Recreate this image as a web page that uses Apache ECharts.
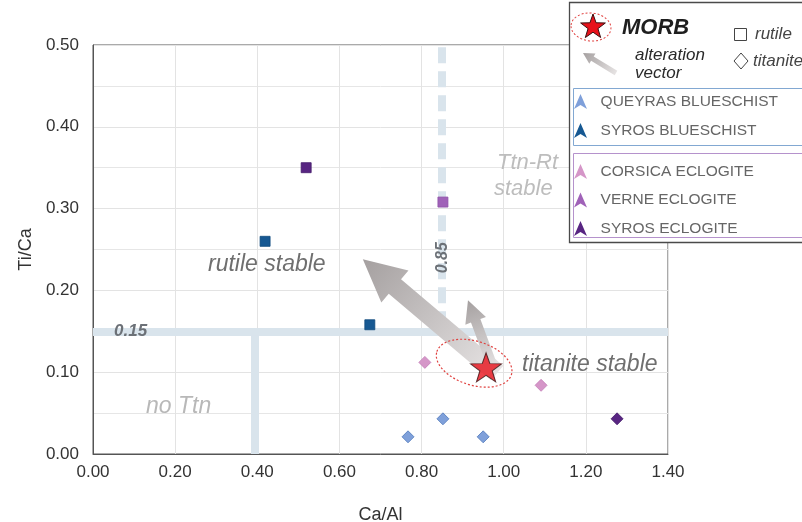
<!DOCTYPE html>
<html>
<head>
<meta charset="utf-8">
<script src="https://cdn.jsdelivr.net/npm/echarts@6/dist/echarts.min.js"></script>
<style>
  html, body { margin: 0; padding: 0; background: #fff; }
  #chart { width: 802px; height: 522px; }
</style>
</head>
<body>
<div id="chart"></div>
<script>
// ---- data: [Ca/Al, Ti/Ca, host mineral] ----
const queyrasBlueschist = [[0.767, 0.021, 'titanite'], [0.852, 0.043, 'titanite'], [0.950, 0.021, 'titanite']];
const syrosBlueschist   = [[0.419, 0.260, 'rutile'], [0.674, 0.158, 'rutile']];
const corsicaEclogite   = [[0.808, 0.112, 'titanite'], [1.091, 0.084, 'titanite']];
const verneEclogite     = [[0.852, 0.308, 'rutile']];
const syrosEclogite     = [[0.519, 0.350, 'rutile'], [1.276, 0.043, 'titanite']];
const morb              = [[0.957, 0.106]];
// alteration vectors: [fromX, fromY, toX, toY]
const alterationVectors = [[0.984, 0.099, 0.657, 0.238], [0.976, 0.103, 0.913, 0.188]];
// stability-field boundaries
const rutileLimitTiCa   = 0.15;
const titaniteLimitCaAl = 0.85;
const noTitaniteCaAl    = 0.395;
const morbHalo          = [[0.928, 0.111]];
const xTickValues = [0, 0.2, 0.4, 0.6, 0.8, 1.0, 1.2, 1.4];
const yTickValues = [0, 0.1, 0.2, 0.3, 0.4, 0.5];

const FONT = "'Liberation Sans', Arial, sans-serif";
const BAND = '#d9e4ec';

// five-pointed star outline
function starPoints(cx, cy, r) {
  const pts = [];
  for (let k = 0; k < 10; k++) {
    const rr = k % 2 ? r * 0.4 : r;
    const a = -Math.PI / 2 + k * Math.PI / 5;
    pts.push([cx + rr * Math.cos(a), cy + rr * Math.sin(a)]);
  }
  return pts;
}
const starSymbol = 'path://M' + starPoints(0, 0, 1).map(p => p[0].toFixed(4) + ',' + p[1].toFixed(4)).join('L') + 'Z';
// notched arrowhead used as key icon
const keyIcon = 'path://M0,0L6.5,15L0,11L-6.5,15Z';

// arrow polygon from tail p0 to tip p1
function arrowPoints(p0, p1, shaft, head, headLen) {
  const dx = p1[0] - p0[0], dy = p1[1] - p0[1];
  const len = Math.hypot(dx, dy);
  const ux = dx / len, uy = dy / len, nx = -uy, ny = ux;
  const bx = p1[0] - ux * headLen, by = p1[1] - uy * headLen;
  return [
    [p0[0] + nx * shaft / 2, p0[1] + ny * shaft / 2],
    [bx + nx * shaft / 2, by + ny * shaft / 2],
    [bx + nx * head / 2, by + ny * head / 2],
    [p1[0], p1[1]],
    [bx - nx * head / 2, by - ny * head / 2],
    [bx - nx * shaft / 2, by - ny * shaft / 2],
    [p0[0] - nx * shaft / 2, p0[1] - ny * shaft / 2]
  ];
}
function arrowFill(p0, p1) {
  return new echarts.graphic.LinearGradient(p0[0], p0[1], p1[0], p1[1], [
    { offset: 0, color: '#e6e3e3' },
    { offset: 1, color: '#a5a0a0' }
  ], true);
}
const arrowShapes = [
  { shaft: 19, head: 42, headLen: 42 },
  { shaft: 10, head: 22, headLen: 22 }
];

const mineralSymbol = v => (v[2] === 'rutile' ? 'rect' : 'diamond');
const mineralSize = v => (v[2] === 'rutile' ? 10 : 12);

function group(name, data, color, border) {
  return {
    name, type: 'scatter', data,
    symbol: mineralSymbol, symbolSize: mineralSize,
    itemStyle: { color, borderColor: border, borderWidth: 0.8, opacity: 1 },
    z: 5
  };
}

const chart = echarts.init(document.getElementById('chart'), null, { renderer: 'canvas' });

const legendText = { color: '#666', fontSize: 15.5, fontFamily: FONT };
const legendCommon = {
  orient: 'vertical', left: 574, padding: 0, itemGap: 13,
  itemWidth: 13, itemHeight: 15, icon: keyIcon, textStyle: legendText, z: 110,
  itemStyle: { borderWidth: 0 },
  formatter: name => '  ' + name
};

chart.setOption({
  animation: false,
  textStyle: { fontFamily: FONT },
  grid: {
    left: 93, right: 134, top: 45, bottom: 68, outerBoundsMode: 'none',
    show: true, borderColor: '#555', borderWidth: 1, backgroundColor: 'transparent'
  },
  xAxis: {
    type: 'value', min: 0, max: 1.4, interval: 0.2,
    name: 'Ca/Al', nameLocation: 'middle', nameGap: 52,
    nameTextStyle: { fontSize: 18, color: '#333', fontFamily: FONT },
    axisLine: { show: true, lineStyle: { color: '#555' } },
    axisTick: { show: false },
    axisLabel: { fontSize: 17, color: '#333', margin: 10, formatter: v => v.toFixed(2), customValues: xTickValues },
    splitLine: { show: true, lineStyle: { color: '#e3e3e3' } }
  },
  yAxis: {
    type: 'value', min: 0, max: 0.5, interval: 0.1,
    name: 'Ti/Ca', nameLocation: 'middle', nameGap: 49,
    nameTextStyle: { fontSize: 18, color: '#333', fontFamily: FONT },
    axisLine: { show: true, lineStyle: { color: '#555' } },
    axisTick: { show: false },
    axisLabel: { fontSize: 17, color: '#333', margin: 14, formatter: v => v.toFixed(2), customValues: yTickValues },
    splitLine: { show: true, lineStyle: { color: '#e3e3e3' } },
    minorTick: { show: false, splitNumber: 2 },
    minorSplitLine: { show: true, lineStyle: { color: '#e6e6e6' } }
  },
  legend: [
    Object.assign({ data: ['QUEYRAS BLUESCHIST', 'SYROS BLUESCHIST'], top: 93.5 }, legendCommon),
    Object.assign({ data: ['CORSICA ECLOGITE', 'VERNE ECLOGITE', 'SYROS ECLOGITE'], top: 163.5 }, legendCommon, { itemGap: 12.5 })
  ],
  series: [
    {
      // stability-field boundaries
      name: 'boundaries', type: 'scatter', data: [], silent: true, z: 1,
      markLine: {
        silent: true, symbol: 'none', animation: false, label: { show: false },
        lineStyle: { color: BAND, width: 8, type: 'solid', cap: 'butt' },
        data: [
          [{ coord: [0, rutileLimitTiCa] }, { coord: [1.4, rutileLimitTiCa] }],
          [{ coord: [noTitaniteCaAl, 0] }, { coord: [noTitaniteCaAl, rutileLimitTiCa - 0.005] }],
          [{ coord: [titaniteLimitCaAl, rutileLimitTiCa + 0.005], lineStyle: { type: [16, 8] } },
           { coord: [titaniteLimitCaAl, 0.5] }]
        ]
      }
    },
    group('QUEYRAS BLUESCHIST', queyrasBlueschist, '#7fa0da', '#4f78bb'),
    group('SYROS BLUESCHIST', syrosBlueschist, '#165892', '#0f4a7c'),
    group('CORSICA ECLOGITE', corsicaEclogite, '#d596c8', '#c47fb7'),
    group('VERNE ECLOGITE', verneEclogite, '#a062b8', '#8f52a8'),
    group('SYROS ECLOGITE', syrosEclogite, '#582582', '#441a6a'),
    {
      name: 'alteration vector', type: 'custom', data: alterationVectors, z: 6, silent: true,
      encode: { x: [0, 2], y: [1, 3] },
      renderItem(params, api) {
        const p0 = api.coord([api.value(0), api.value(1)]);
        const p1 = api.coord([api.value(2), api.value(3)]);
        const s = arrowShapes[params.dataIndex];
        return {
          type: 'polygon',
          shape: { points: arrowPoints(p0, p1, s.shaft, s.head, s.headLen) },
          style: { fill: arrowFill(p0, p1) }
        };
      }
    },
    {
      name: 'MORB halo', type: 'custom', data: morbHalo, z: 7, silent: true,
      encode: { x: 0, y: 1 },
      renderItem(params, api) {
        const c = api.coord([api.value(0), api.value(1)]);
        return {
          type: 'ellipse', x: c[0], y: c[1], rotation: -0.3,
          shape: { cx: 0, cy: 0, rx: 39, ry: 22 },
          style: { fill: null, stroke: '#e0413f', lineWidth: 1.2, lineDash: [2, 2] }
        };
      }
    },
    {
      name: 'MORB', type: 'scatter', data: morb, z: 8,
      symbol: starSymbol, symbolSize: [31, 29],
      itemStyle: { color: '#e8121b', borderColor: '#3a1010', borderWidth: 1 }
    }
  ]
});

// annotations placed on the boundaries
const p15 = chart.convertToPixel({ gridIndex: 0 }, [0, rutileLimitTiCa]);
const p85 = chart.convertToPixel({ gridIndex: 0 }, [titaniteLimitCaAl, 0.24]);

const fieldLabel = (text, x, y, color, size) => ({
  type: 'text', x, y, z: 20,
  style: { text, fill: color, font: `italic ${size}px ${FONT}`, textVerticalAlign: 'middle' }
});

const legendStar = starPoints(593, 27, 13);
const legendArrow = arrowPoints([616, 73], [583, 53], 5, 12, 11);

chart.setOption({
  graphic: [
    // field labels
    fieldLabel('rutile stable', 208, 265, '#6f6f6f', 23),
    fieldLabel('titanite stable', 522, 365, '#6f6f6f', 23),
    fieldLabel('no Ttn', 146, 407, '#b8b8b8', 23),
    fieldLabel('Ttn-Rt', 497, 163, '#bdbdbd', 22),
    fieldLabel('stable', 494, 189, '#bdbdbd', 22),
    {
      type: 'text', x: p15[0] + 21, y: p15[1], z: 20,
      style: { text: '0.15', fill: '#6c7177', font: `italic bold 17px ${FONT}`, textVerticalAlign: 'middle' }
    },
    {
      type: 'text', x: p85[0], y: p85[1], rotation: Math.PI / 2, z: 20,
      style: { text: '0.85', fill: '#6c7177', font: `italic bold 16px ${FONT}`, textAlign: 'center', textVerticalAlign: 'middle' }
    },
    // key box
    { type: 'rect', z: 100, shape: { x: 569.5, y: 2.5, width: 240, height: 240 }, style: { fill: '#fff', stroke: '#4a4a4a', lineWidth: 1.3 } },
    { type: 'rect', z: 101, shape: { x: 573.5, y: 88.5, width: 236, height: 57 }, style: { fill: null, stroke: '#82a8d2', lineWidth: 1 } },
    { type: 'rect', z: 101, shape: { x: 573.5, y: 153.5, width: 236, height: 84 }, style: { fill: null, stroke: '#b592cc', lineWidth: 1 } },
    { type: 'ellipse', z: 101, shape: { cx: 591, cy: 27, rx: 20, ry: 14 }, rotation: -0.1, originX: 591, originY: 27,
      style: { fill: null, stroke: '#e0413f', lineWidth: 1, lineDash: [2, 2] } },
    { type: 'polygon', z: 102, shape: { points: legendStar }, style: { fill: '#e8121b', stroke: '#3a1010', lineWidth: 1 } },
    { type: 'text', z: 102, x: 622, y: 28, style: { text: 'MORB', fill: '#1e1e1e', font: `italic bold 22px ${FONT}`, textVerticalAlign: 'middle' } },
    { type: 'rect', z: 102, shape: { x: 734.5, y: 28.5, width: 12, height: 12 }, style: { fill: null, stroke: '#444', lineWidth: 1 } },
    { type: 'text', z: 102, x: 755, y: 34, style: { text: 'rutile', fill: '#444', font: `italic 17px ${FONT}`, textVerticalAlign: 'middle' } },
    { type: 'polygon', z: 102, shape: { points: [[741, 53], [748, 61], [741, 69], [734, 61]] }, style: { fill: null, stroke: '#444', lineWidth: 1 } },
    { type: 'text', z: 102, x: 753, y: 61, style: { text: 'titanite', fill: '#444', font: `italic 17px ${FONT}`, textVerticalAlign: 'middle' } },
    { type: 'polygon', z: 102, shape: { points: legendArrow }, style: { fill: arrowFill([616, 73], [583, 53]) } },
    { type: 'text', z: 102, x: 635, y: 55, style: { text: 'alteration', fill: '#2a2a2a', font: `italic 17px ${FONT}`, textVerticalAlign: 'middle' } },
    { type: 'text', z: 102, x: 635, y: 73, style: { text: 'vector', fill: '#2a2a2a', font: `italic 17px ${FONT}`, textVerticalAlign: 'middle' } }
  ]
});
</script>
</body>
</html>
